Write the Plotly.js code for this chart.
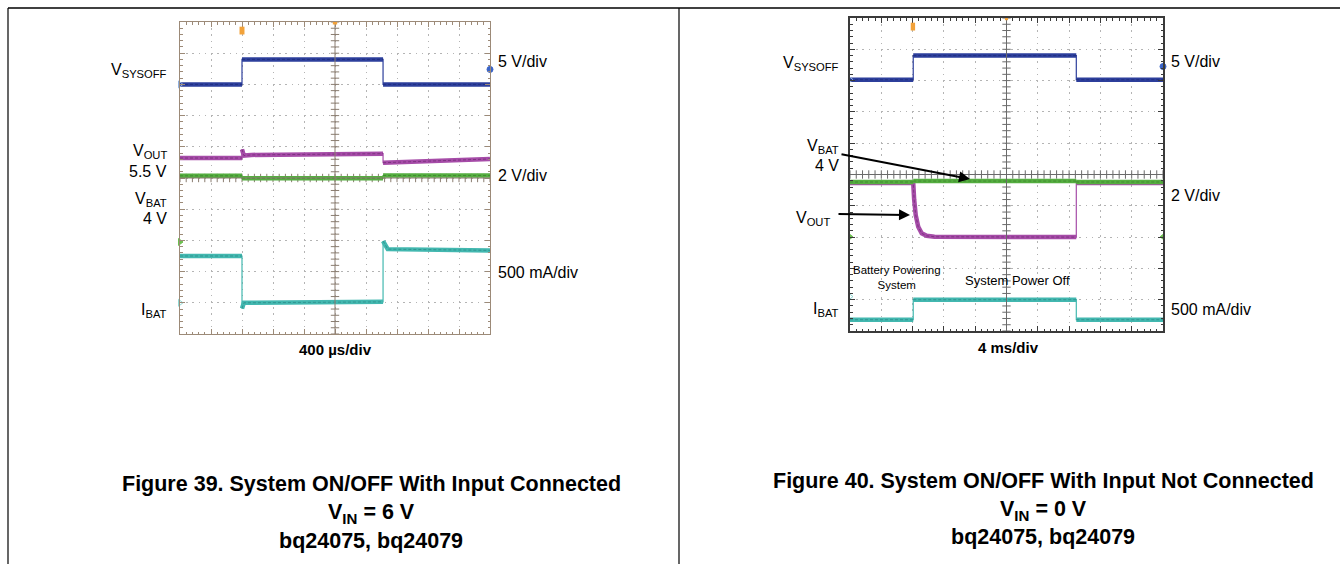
<!DOCTYPE html>
<html>
<head>
<meta charset="utf-8">
<script src="https://cdn.plot.ly/plotly-3.0.1.min.js"></script>
<style>
  html, body { margin: 0; padding: 0; background: #fff; }
  #chart { width: 1340px; height: 564px; }
</style>
</head>
<body>
<div id="chart"></div>
<script>
// screen positions in scope divisions (time 0..10 div, level 0..10 div from bottom)

// Figure 39 - input connected, 400 us/div
var t39Sys = [0, 2.0, 2.0, 6.55, 6.55, 10];
var sys39 = [8.0, 8.0, 8.8, 8.8, 8.0, 8.0];
var t39Out = [0, 2.0, 2.0, 2.06, 2.3, 6.55, 6.55, 10];
var out39 = [5.64, 5.64, 5.92, 5.72, 5.74, 5.78, 5.49, 5.61];
var t39Bat = [0, 2.0, 2.0, 6.55, 6.55, 10];
var bat39 = [5.07, 5.07, 4.99, 4.99, 5.08, 5.08];
var t39Ibat = [0, 2.0, 2.0, 2.06, 6.55, 6.55, 6.7, 10];
var ibat39 = [2.5, 2.5, 0.82, 1.0, 1.03, 2.98, 2.72, 2.68];

// Figure 40 - input not connected, 4 ms/div
var t40Sys = [0, 2.02, 2.02, 7.23, 7.23, 10];
var sys40 = [8.03, 8.03, 8.8, 8.8, 8.03, 8.03];
var t40Out = [0, 2.02, 2.05, 2.1, 2.18, 2.29, 2.45, 2.7, 7.23, 7.23, 10];
var out40 = [4.73, 4.73, 4.2, 3.7, 3.33, 3.12, 3.04, 3.01, 3.0, 4.73, 4.73];
var t40Bat = [0, 2.02, 2.02, 7.23, 7.23, 10];
var bat40 = [4.76, 4.76, 4.79, 4.79, 4.76, 4.76];
var t40Ibat = [0, 2.02, 2.02, 7.23, 7.23, 10];
var ibat40 = [0.36, 0.36, 1.0, 1.0, 0.36, 0.36];

var colBlue = '#2d3f9c', coreBlue = '#1c2a7a';
var colPurple = '#a64ca8', corePurple = '#6e2a70';
var colGreen = '#55ae40', coreGreen = '#3a7d2a';
var colCyan = '#43b8b0', coreCyan = '#2a8784';

var W = 1340, H = 564;
function px(x) { return x / W; }
function py(y) { return 1 - y / H; }

// break the thick band at vertical edges, edges stay thin like on the scope
function split(t, v) {
  var x = [], y = [];
  for (var i = 0; i < t.length; i++) {
    if (i > 0 && t[i] === t[i - 1]) { x.push(null); y.push(null); }
    x.push(t[i]); y.push(v[i]);
  }
  return {x: x, y: y};
}

var data = [];
function addTrace(t, v, col, core, xa, ya) {
  data.push({x: t, y: v, xaxis: xa, yaxis: ya, mode: 'lines', type: 'scatter',
    line: {color: col, width: 1.2}, hoverinfo: 'skip'});
  var s = split(t, v);
  data.push({x: s.x, y: s.y, xaxis: xa, yaxis: ya, mode: 'lines', type: 'scatter',
    line: {color: col, width: 4.5}, connectgaps: false, hoverinfo: 'skip'});
  data.push({x: s.x, y: s.y, xaxis: xa, yaxis: ya, mode: 'lines', type: 'scatter',
    line: {color: core, width: 1, dash: '3px,2px'}, opacity: 0.7, connectgaps: false, hoverinfo: 'skip'});
}

// center crosshair tick marks
var tickPos = [];
for (var k = 0; k <= 50; k++) tickPos.push(k * 0.2);
var fives = tickPos.map(function () { return 5; });
function addCross(xa, ya, c) {
  data.push({x: tickPos, y: fives, xaxis: xa, yaxis: ya, mode: 'markers', type: 'scatter',
    marker: {symbol: 'line-ns', size: 6, line: {width: 1, color: c}}, hoverinfo: 'skip'});
  data.push({x: fives, y: tickPos, xaxis: xa, yaxis: ya, mode: 'markers', type: 'scatter',
    marker: {symbol: 'line-ew', size: 6, line: {width: 1, color: c}}, hoverinfo: 'skip'});
}

addCross('x', 'y', '#8a7d70');
addCross('x2', 'y2', '#6a6a6a');

addTrace(t39Sys, sys39, colBlue, coreBlue, 'x', 'y');
addTrace(t39Out, out39, colPurple, corePurple, 'x', 'y');
addTrace(t39Bat, bat39, colGreen, coreGreen, 'x', 'y');
addTrace(t39Ibat, ibat39, colCyan, coreCyan, 'x', 'y');

addTrace(t40Sys, sys40, colBlue, coreBlue, 'x2', 'y2');
addTrace(t40Out, out40, colPurple, corePurple, 'x2', 'y2');
addTrace(t40Bat, bat40, colGreen, coreGreen, 'x2', 'y2');
addTrace(t40Ibat, ibat40, colCyan, coreCyan, 'x2', 'y2');

// channel reference tags on the screen edges
data.push({x: [0, 0, 0, 10], y: [8.0, 2.95, 1.0, 8.48], xaxis: 'x', yaxis: 'y',
  mode: 'markers', type: 'scatter', cliponaxis: false, hoverinfo: 'skip',
  marker: {symbol: ['triangle-right-open', 'triangle-right', 'triangle-right-open', 'circle'], size: 6,
    color: ['#8fb0e0', '#6cc050', '#8fd8d4', '#3a64c8'], line: {width: 1, color: ['#8fb0e0', '#6cc050', '#8fd8d4', '#3a64c8']}}});
data.push({x: [0, 0, 10, 0, 10], y: [8.03, 3.01, 3.01, 1.1, 8.45], xaxis: 'x2', yaxis: 'y2',
  mode: 'markers', type: 'scatter', cliponaxis: false, hoverinfo: 'skip',
  marker: {symbol: ['triangle-right-open', 'triangle-right', 'triangle-left', 'triangle-right-open', 'circle'], size: 6,
    color: ['#8fb0e0', '#6cc050', '#6cc050', '#8fd8d4', '#3a64c8'], line: {width: 1, color: ['#8fb0e0', '#6cc050', '#6cc050', '#8fd8d4', '#3a64c8']}}});

function scopeAxis(domain, anchor, lineCol) {
  return {
    domain: domain, anchor: anchor, range: [0, 10], dtick: 1, tick0: 0,
    showgrid: true, gridcolor: '#b4b4b4', griddash: '1.5px,4.7px', gridwidth: 1,
    zeroline: false, showline: true, linecolor: lineCol, linewidth: 1.2, mirror: 'ticks',
    ticks: 'inside', ticklen: 5, tickcolor: lineCol,
    minor: {dtick: 0.2, ticks: 'inside', ticklen: 2.5, tickcolor: lineCol, showgrid: false},
    showticklabels: false, fixedrange: true
  };
}

var font = 'Liberation Sans, Arial, sans-serif';
function lab(x, y, text, xanchor, size, bold) {
  return {xref: 'paper', yref: 'paper', x: px(x), y: py(y), text: bold ? '<b>' + text + '</b>' : text,
    showarrow: false, xanchor: xanchor, yanchor: 'middle', align: xanchor === 'right' ? 'right' : 'center',
    font: {family: font, size: size, color: '#000'}};
}

var annotations = [
  // figure 39
  lab(169, 70, 'V<sub>SYSOFF</sub>', 'right', 16),
  lab(169, 152, 'V<sub>OUT</sub>', 'right', 16),
  lab(169, 171, '5.5 V', 'right', 16),
  lab(169, 199, 'V<sub>BAT</sub>', 'right', 16),
  lab(169, 218, '4 V', 'right', 16),
  lab(169, 310, 'I<sub>BAT</sub>', 'right', 16),
  lab(496, 62, '5 V/div', 'left', 16),
  lab(496, 175, '2 V/div', 'left', 16),
  lab(496, 272, '500 mA/div', 'left', 16),
  lab(335, 349, '400 \u00b5s/div', 'center', 15, true),
  lab(371, 484, 'Figure 39. System ON/OFF With Input Connected', 'center', 21.5, true),
  lab(371, 513, 'V<sub>IN</sub> = 6 V', 'center', 21.5, true),
  lab(371, 541, 'bq24075, bq24079', 'center', 21.5, true),
  // figure 40
  lab(841, 64, 'V<sub>SYSOFF</sub>', 'right', 16),
  lab(841, 146, 'V<sub>BAT</sub>', 'right', 16),
  lab(841, 165, '4 V', 'right', 16),
  lab(832, 218, 'V<sub>OUT</sub>', 'right', 16),
  lab(841, 309, 'I<sub>BAT</sub>', 'right', 16),
  lab(1169, 62, '5 V/div', 'left', 16),
  lab(1169, 196, '2 V/div', 'left', 16),
  lab(1169, 309, '500 mA/div', 'left', 16),
  lab(1008, 347, '4 ms/div', 'center', 15, true),
  lab(897, 277, 'Battery Powering<br>System', 'center', 11.5),
  lab(1017, 280, 'System Power Off', 'center', 13),
  lab(1043, 481, 'Figure 40. System ON/OFF With Input Not Connected', 'center', 21.5, true),
  lab(1043, 510, 'V<sub>IN</sub> = 0 V', 'center', 21.5, true),
  lab(1043, 537, 'bq24075, bq24079', 'center', 21.5, true),
  // arrows
  {xref: 'paper', yref: 'paper', x: px(970), y: py(179), text: '', showarrow: true,
    ax: -130, ay: -25, arrowhead: 2, arrowsize: 1.1, arrowwidth: 2, arrowcolor: '#000'},
  {xref: 'paper', yref: 'paper', x: px(910), y: py(215), text: '', showarrow: true,
    ax: -73, ay: -1, arrowhead: 2, arrowsize: 1.1, arrowwidth: 2, arrowcolor: '#000'}
];

var shapes = [
  // document table rules
  {type: 'line', xref: 'paper', yref: 'paper', x0: px(8), x1: 1, y0: py(8), y1: py(8), line: {color: '#000', width: 1.5}},
  {type: 'line', xref: 'paper', yref: 'paper', x0: px(8), x1: px(8), y0: py(8), y1: 0, line: {color: '#000', width: 1.2}},
  {type: 'line', xref: 'paper', yref: 'paper', x0: px(679), x1: px(679), y0: py(8), y1: 0, line: {color: '#000', width: 1.2}},
  // center crosshairs
  {type: 'line', xref: 'x', yref: 'y', x0: 5, x1: 5, y0: 0, y1: 10, line: {color: '#8a7d70', width: 1}},
  {type: 'line', xref: 'x', yref: 'y', x0: 0, x1: 10, y0: 5, y1: 5, line: {color: '#8a7d70', width: 1}},
  {type: 'line', xref: 'x2', yref: 'y2', x0: 5, x1: 5, y0: 0, y1: 10, line: {color: '#6a6a6a', width: 1}},
  {type: 'line', xref: 'x2', yref: 'y2', x0: 0, x1: 10, y0: 5, y1: 5, line: {color: '#6a6a6a', width: 1.2}},
  // trigger position markers
  {type: 'rect', xref: 'x', yref: 'y', x0: 1.92, x1: 2.08, y0: 9.6, y1: 9.85, fillcolor: '#f2a23a', line: {width: 0}},
  {type: 'rect', xref: 'x', yref: 'y', x0: 3.52, x1: 3.68, y0: 10, y1: 10.15, fillcolor: '#f2a23a', line: {width: 0}},
  {type: 'rect', xref: 'x', yref: 'y', x0: 4.93, x1: 5.07, y0: 9.92, y1: 10.05, fillcolor: '#f2a23a', line: {width: 0}},
  {type: 'rect', xref: 'x2', yref: 'y2', x0: 1.94, x1: 2.08, y0: 9.6, y1: 9.85, fillcolor: '#f2a23a', line: {width: 0}},
  {type: 'rect', xref: 'x2', yref: 'y2', x0: 3.55, x1: 3.67, y0: 10, y1: 10.12, fillcolor: '#f2a23a', line: {width: 0}},
  {type: 'rect', xref: 'x2', yref: 'y2', x0: 4.95, x1: 5.05, y0: 9.93, y1: 10.05, fillcolor: '#f2a23a', line: {width: 0}}
];

var layout = {
  width: W, height: H,
  margin: {l: 0, r: 0, t: 0, b: 0},
  paper_bgcolor: '#fff', plot_bgcolor: '#fff',
  showlegend: false,
  xaxis: scopeAxis([px(180), px(490)], 'y', '#9c8a78'),
  yaxis: scopeAxis([py(334), py(22)], 'x', '#9c8a78'),
  xaxis2: scopeAxis([px(850), px(1163)], 'y2', '#3a3a3a'),
  yaxis2: scopeAxis([py(331), py(18)], 'x2', '#3a3a3a'),
  annotations: annotations,
  shapes: shapes
};
layout.xaxis2.linewidth = 1.6;
layout.yaxis2.linewidth = 1.6;

Plotly.newPlot('chart', data, layout, {displayModeBar: false, staticPlot: true});
</script>
</body>
</html>
